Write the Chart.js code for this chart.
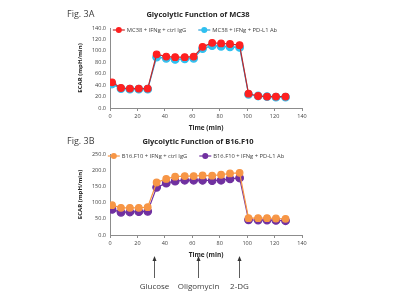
<!DOCTYPE html>
<html>
<head>
<meta charset="utf-8">
<script src="https://cdn.jsdelivr.net/npm/chart.js@4"></script>
<style>
  body { margin: 0; width: 400px; height: 300px; background: #fff; position: relative; overflow: hidden; font-family: "Open Sans", sans-serif; }
  canvas { position: absolute; left: 0; }
  #topChart { top: 0; }
  #botChart { top: 135px; }
  .fig { position: absolute; left: 67px; font-size: 9px; color: #404040; }
</style>
</head>
<body>
<canvas id="topChart" width="400" height="140"></canvas>
<canvas id="botChart" width="400" height="165"></canvas>
<div class="fig" style="top:7px">Fig. 3A</div>
<div class="fig" style="top:134px">Fig. 3B</div>
<script>
var times = [1.5, 8, 14.5, 21, 27.5, 34, 41, 47.5, 54.5, 61, 67.5, 74.5, 81, 87.5, 94.5, 101, 108, 114.5, 121, 128];

// MC38
var mc38Ctrl = [45, 35, 34, 34, 34, 94, 90, 89, 89, 90, 107, 114, 113, 112, 110, 25, 21, 20, 20, 20];
var mc38CtrlErr = [2, 2, 1, 1, 1, 3, 3, 3, 3, 3, 4, 4, 4, 4, 4, 2, 1, 1, 1, 1];
var mc38Pd = [42, 34, 33, 33, 33, 89, 87, 85, 86, 87, 104, 109, 108, 107, 106, 24, 21, 20, 19, 19];
var mc38PdErr = [2, 2, 1, 1, 1, 3, 4, 4, 3, 3, 4, 5, 5, 5, 5, 2, 1, 1, 1, 1];

// B16.F10
var b16Ctrl = [92, 84, 84, 84, 86, 162, 173, 180, 182, 182, 184, 183, 186, 190, 192, 52, 52, 52, 51, 50];
var b16CtrlErr = [4, 3, 3, 3, 3, 8, 6, 6, 5, 5, 8, 6, 6, 6, 6, 3, 3, 3, 3, 3];
var b16Pd = [79, 70, 71, 72, 73, 147, 160, 166, 169, 169, 169, 168, 169, 173, 176, 47, 46, 46, 45, 44];
var b16PdErr = [4, 4, 4, 4, 4, 9, 10, 9, 8, 8, 11, 11, 10, 10, 9, 3, 3, 3, 3, 3];

var injections = ['Glucose', 'Oligomycin', '2-DG'];
var injectionTimes = [32, 64, 94];

var txt = '#404040';
var axisCol = '#8c8c8c';

function pts(ys) {
  return times.map(function (t, i) { return { x: t, y: ys[i] }; });
}

// error bars go under the markers
var errorBars = {
  id: 'errorBars',
  beforeDatasetsDraw: function (chart) {
    var ctx = chart.ctx;
    var ys = chart.scales.y;
    chart.data.datasets.forEach(function (ds, di) {
      var meta = chart.getDatasetMeta(di);
      ctx.save();
      ctx.strokeStyle = '#444';
      ctx.lineWidth = 0.7;
      meta.data.forEach(function (p, i) {
        var e = ds.err[i];
        var top = ys.getPixelForValue(ds.data[i].y + e);
        var bot = ys.getPixelForValue(ds.data[i].y - e);
        ctx.beginPath();
        ctx.moveTo(p.x, top); ctx.lineTo(p.x, bot);
        ctx.moveTo(p.x - 1.5, top); ctx.lineTo(p.x + 1.5, top);
        ctx.moveTo(p.x - 1.5, bot); ctx.lineTo(p.x + 1.5, bot);
        ctx.stroke();
      });
      ctx.restore();
    });
  }
};

// title + excel-like legend (line with marker), centred on the page
var header = {
  id: 'header',
  afterDraw: function (chart) {
    var o = chart.options.plugins.header;
    var ctx = chart.ctx;
    ctx.save();
    ctx.fillStyle = '#262626';
    ctx.font = 'bold 7.5px "Open Sans"';
    ctx.textAlign = 'center';
    ctx.textBaseline = 'middle';
    ctx.fillText(o.title, 198, o.titleY);

    ctx.font = '5.8px "Open Sans"';
    var iconW = 12, gap = 2, itemGap = 12;
    var items = chart.data.datasets.map(function (ds) {
      return { ds: ds, w: iconW + gap + ctx.measureText(ds.label).width };
    });
    var total = items.reduce(function (a, it) { return a + it.w; }, 0) + itemGap * (items.length - 1);
    var x = o.legendX - total / 2;
    ctx.textAlign = 'left';
    items.forEach(function (it) {
      var y = o.legendY;
      ctx.strokeStyle = it.ds.borderColor;
      ctx.lineWidth = 1.2;
      ctx.beginPath(); ctx.moveTo(x, y); ctx.lineTo(x + iconW, y); ctx.stroke();
      ctx.fillStyle = it.ds.pointBackgroundColor;
      ctx.beginPath(); ctx.arc(x + iconW / 2, y, 3, 0, Math.PI * 2); ctx.fill();
      ctx.fillStyle = txt;
      ctx.fillText(it.ds.label, x + iconW + gap, y + 0.5);
      x += it.w + itemGap;
    });
    ctx.restore();
  }
};

var arrows = {
  id: 'arrows',
  afterDraw: function (chart) {
    if (!chart.options.plugins.arrows.show) return;
    var ctx = chart.ctx;
    var xs = chart.scales.x;
    ctx.save();
    ctx.lineWidth = 0.8;
    injectionTimes.forEach(function (t, i) {
      var x = Math.round(xs.getPixelForValue(t)) + 0.5;
      ctx.strokeStyle = '#333';
      ctx.fillStyle = '#333';
      ctx.beginPath(); ctx.moveTo(x, 143); ctx.lineTo(x, 124); ctx.stroke();
      ctx.beginPath(); ctx.moveTo(x, 121); ctx.lineTo(x - 2, 126); ctx.lineTo(x + 2, 126); ctx.closePath(); ctx.fill();
      ctx.fillStyle = txt;
      ctx.font = '8px "Open Sans"';
      ctx.textAlign = 'center';
      ctx.textBaseline = 'middle';
      ctx.fillText(injections[i], x, 152);
    });
    ctx.restore();
  }
};

function makeChart(id, title, series, yMax, yStep, pad, head, showArrows) {
  return new Chart(document.getElementById(id), {
    type: 'line',
    data: {
      datasets: series.map(function (s) {
        return {
          label: s.label,
          data: pts(s.data),
          err: s.err,
          borderColor: s.line,
          backgroundColor: s.fill,
          pointBackgroundColor: s.fill,
          pointBorderColor: s.fill,
          pointRadius: s.r,
          borderWidth: 1.2,
          tension: 0,
          fill: false
        };
      })
    },
    options: {
      responsive: false,
      animation: false,
      layout: { padding: pad },
      plugins: {
        title: { display: false },
        legend: { display: false },
        tooltip: { enabled: false },
        header: { title: title, titleY: head.titleY, legendY: head.legendY, legendX: head.legendX },
        arrows: { show: showArrows }
      },
      scales: {
        x: {
          type: 'linear',
          min: 0, max: 140,
          ticks: { stepSize: 20, color: txt, font: { family: 'Open Sans', size: 5.5 }, padding: 2 },
          grid: { drawOnChartArea: false, tickLength: 3, color: axisCol },
          border: { color: axisCol },
          title: { display: true, text: 'Time (min)', color: '#262626', font: { family: 'Open Sans', size: 6.5, weight: 'bold' }, padding: { top: 2, bottom: 0 } },
          afterFit: function (s) { s.height = 24; }
        },
        y: {
          min: 0, max: yMax,
          ticks: {
            stepSize: yStep, color: txt, font: { family: 'Open Sans', size: 5.5 }, padding: 4,
            callback: function (v) { return v.toFixed(1); }
          },
          grid: { drawOnChartArea: false, drawTicks: false, color: axisCol },
          border: { color: axisCol },
          title: { display: true, text: 'ECAR (mpH/min)', color: '#262626', font: { family: 'Open Sans', size: 6, weight: 'bold' }, padding: 0 },
          afterFit: function (s) { s.width = 33; }
        }
      }
    },
    plugins: [errorBars, header, arrows]
  });
}

makeChart('topChart', 'Glycolytic Function of MC38', [
  { label: 'MC38 + IFNg + ctrl IgG', data: mc38Ctrl, err: mc38CtrlErr, line: '#c0282b', fill: '#ff2020', r: 3.3 },
  { label: 'MC38 + IFNg + PD-L1 Ab', data: mc38Pd, err: mc38PdErr, line: '#2a9fd8', fill: '#2ec0f0', r: 3.8 }
], 140, 20, { left: 77, right: 98, top: 28, bottom: 8 }, { titleY: 15, legendY: 30, legendX: 195 }, false);

makeChart('botChart', 'Glycolytic Function of B16.F10', [
  { label: 'B16.F10 + IFNg + ctrl IgG', data: b16Ctrl, err: b16CtrlErr, line: '#f79646', fill: '#f79646', r: 3.3 },
  { label: 'B16.F10 + IFNg + PD-L1 Ab', data: b16Pd, err: b16PdErr, line: '#7030a0', fill: '#7030a0', r: 3.8 }
], 250, 50, { left: 77, right: 98, top: 19, bottom: 41 }, { titleY: 7, legendY: 21, legendX: 196 }, true);
</script>
</body>
</html>
